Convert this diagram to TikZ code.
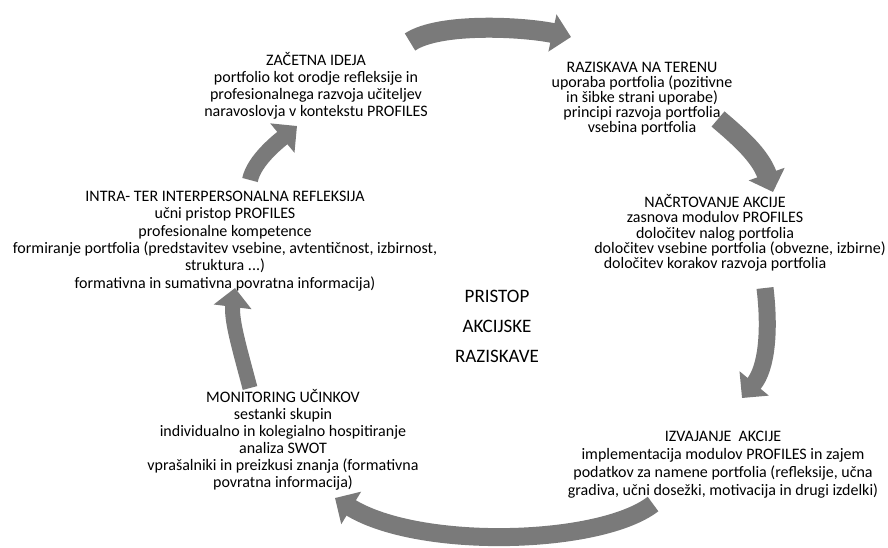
\documentclass[tikz,border=0pt]{standalone}
\usepackage{fontspec}
\setmainfont{Carlito}
\usetikzlibrary{arrows.meta}
\setlength{\lineskiplimit}{-100pt}

\definecolor{bandgray}{RGB}{122,122,122}
\tikzset{
  band/.style = {draw=bandgray, line width=#1, -{Triangle[length=19pt,width=37pt]}},
  band/.default = 19pt,
  stage/.style = {align=center, inner sep=0pt, font=\fontsize{16}{17}\selectfont},
}

\begin{document}
\begin{tikzpicture}[x=1pt, y=-1pt]
\useasboundingbox (0,0) rectangle (888,547);

% stages
\node[stage] (ideja) at (316,86) {ZAČETNA IDEJA\\portfolio kot orodje refleksije in\\profesionalnega razvoja učiteljev\\naravoslovja v kontekstu PROFILES};
\node[stage, font=\fontsize{16}{15}\selectfont] (teren) at (642,99) {RAZISKAVA NA TERENU\\uporaba portfolia (pozitivne\\in šibke strani uporabe)\\principi razvoja portfolia\\vsebina portfolia};
\node[stage, font=\fontsize{16}{15.3}\selectfont] (nacrt) at (715,233) {NAČRTOVANJE AKCIJE\\zasnova modulov PROFILES\\določitev nalog portfolia\\\hspace*{50pt}določitev vsebine portfolia (obvezne, izbirne)\\določitev korakov razvoja portfolia};
\node[stage, font=\fontsize{16}{18}\selectfont] (izvajanje) at (723,465) {IZVAJANJE\ \ AKCIJE\\implementacija modulov PROFILES in zajem\\podatkov za namene portfolia (refleksije, učna\\gradiva, učni dosežki, motivacija in drugi izdelki)};
\node[stage] (monitoring) at (283,440) {MONITORING UČINKOV\\sestanki skupin\\individualno in kolegialno hospitiranje\\analiza SWOT\\vprašalniki in preizkusi znanja (formativna\\povratna informacija)};
\node[stage, font=\fontsize{16}{17.4}\selectfont] (refleksija) at (225,241) {INTRA- TER INTERPERSONALNA REFLEKSIJA\\učni pristop PROFILES\\profesionalne kompetence\\formiranje portfolia (predstavitev vsebine, avtentičnost, izbirnost,\\struktura ...)\\formativna in sumativna povratna informacija)};
\node[stage, font=\fontsize{19}{30}\selectfont] (pristop) at (497,326) {PRISTOP\\AKCIJSKE\\RAZISKAVE};

% arrow ends and controls
\coordinate (A0) at (410,42); \coordinate (A1) at (440,22); \coordinate (A2) at (525,27); \coordinate (A3) at (571,37);
\coordinate (B0) at (718,119); \coordinate (B1) at (738,136); \coordinate (B2) at (760,155); \coordinate (B3) at (773,192);
\coordinate (C0) at (765,288); \coordinate (C1) at (770,330); \coordinate (C2) at (767,368); \coordinate (C3) at (742,398);
\coordinate (D0) at (653,504); \coordinate (D1) at (600,545); \coordinate (D2) at (420,550); \coordinate (D3) at (335,498);
\coordinate (E0) at (250,388); \coordinate (E1) at (240,350); \coordinate (E2) at (231,320); \coordinate (E3) at (235,288);
\coordinate (F0) at (250,180); \coordinate (F1) at (254,160); \coordinate (F2) at (280,140); \coordinate (F3) at (297,126);

\foreach \a/\w in {A/20pt,B/20pt,C/17pt,D/18pt,E/15pt,F/16pt}
  {\draw[band=\w] (\a0) .. controls (\a1) and (\a2) .. (\a3);}

\end{tikzpicture}
\end{document}
